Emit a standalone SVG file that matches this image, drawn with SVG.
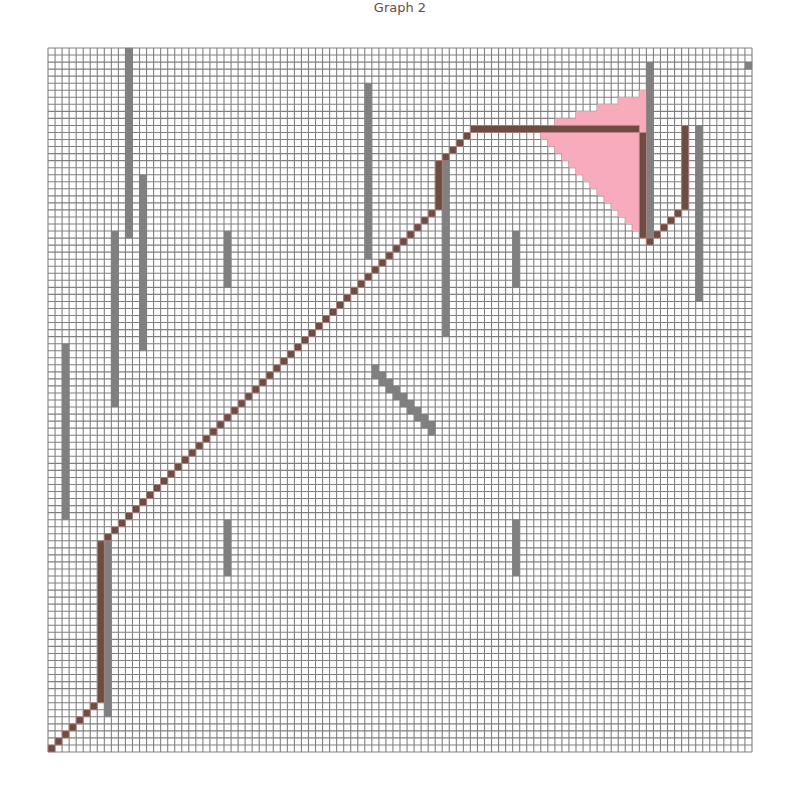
<svg xmlns="http://www.w3.org/2000/svg" width="800" height="800" viewBox="0 0 800 800">
<style>
.title{font-family:"DejaVu Sans","Liberation Sans",sans-serif;font-size:13px;fill:#6d4c41}
.gl{fill:none;stroke:#808080;stroke-width:1.1;vector-effect:non-scaling-stroke}
.obs{fill:#808080;stroke:#808080;stroke-width:0.3;vector-effect:non-scaling-stroke}
.vis{fill:#f7abbb;stroke:#f7abbb;stroke-width:0.3;vector-effect:non-scaling-stroke}
.pth{fill:#6d4c41;stroke:#c98a8a;stroke-width:0.6;vector-effect:non-scaling-stroke}
</style>
<rect width="800" height="800" fill="#ffffff"/>
<text class="title" x="400" y="12" text-anchor="middle">Graph 2</text>
<g transform="translate(48,48) scale(7.04)">
<rect id="board" x="0" y="0" width="100" height="100" fill="#ffffff"/>
<path id="grid" class="gl" d="M0 0H100M0 1H100M0 2H100M0 3H100M0 4H100M0 5H100M0 6H100M0 7H100M0 8H100M0 9H100M0 10H100M0 11H100M0 12H100M0 13H100M0 14H100M0 15H100M0 16H100M0 17H100M0 18H100M0 19H100M0 20H100M0 21H100M0 22H100M0 23H100M0 24H100M0 25H100M0 26H100M0 27H100M0 28H100M0 29H100M0 30H100M0 31H100M0 32H100M0 33H100M0 34H100M0 35H100M0 36H100M0 37H100M0 38H100M0 39H100M0 40H100M0 41H100M0 42H100M0 43H100M0 44H100M0 45H100M0 46H100M0 47H100M0 48H100M0 49H100M0 50H100M0 51H100M0 52H100M0 53H100M0 54H100M0 55H100M0 56H100M0 57H100M0 58H100M0 59H100M0 60H100M0 61H100M0 62H100M0 63H100M0 64H100M0 65H100M0 66H100M0 67H100M0 68H100M0 69H100M0 70H100M0 71H100M0 72H100M0 73H100M0 74H100M0 75H100M0 76H100M0 77H100M0 78H100M0 79H100M0 80H100M0 81H100M0 82H100M0 83H100M0 84H100M0 85H100M0 86H100M0 87H100M0 88H100M0 89H100M0 90H100M0 91H100M0 92H100M0 93H100M0 94H100M0 95H100M0 96H100M0 97H100M0 98H100M0 99H100M0 100H100M0 0V100M1 0V100M2 0V100M3 0V100M4 0V100M5 0V100M6 0V100M7 0V100M8 0V100M9 0V100M10 0V100M11 0V100M12 0V100M13 0V100M14 0V100M15 0V100M16 0V100M17 0V100M18 0V100M19 0V100M20 0V100M21 0V100M22 0V100M23 0V100M24 0V100M25 0V100M26 0V100M27 0V100M28 0V100M29 0V100M30 0V100M31 0V100M32 0V100M33 0V100M34 0V100M35 0V100M36 0V100M37 0V100M38 0V100M39 0V100M40 0V100M41 0V100M42 0V100M43 0V100M44 0V100M45 0V100M46 0V100M47 0V100M48 0V100M49 0V100M50 0V100M51 0V100M52 0V100M53 0V100M54 0V100M55 0V100M56 0V100M57 0V100M58 0V100M59 0V100M60 0V100M61 0V100M62 0V100M63 0V100M64 0V100M65 0V100M66 0V100M67 0V100M68 0V100M69 0V100M70 0V100M71 0V100M72 0V100M73 0V100M74 0V100M75 0V100M76 0V100M77 0V100M78 0V100M79 0V100M80 0V100M81 0V100M82 0V100M83 0V100M84 0V100M85 0V100M86 0V100M87 0V100M88 0V100M89 0V100M90 0V100M91 0V100M92 0V100M93 0V100M94 0V100M95 0V100M96 0V100M97 0V100M98 0V100M99 0V100M100 0V100"/>
<g id="visibility">
<path class="vis" d="M85 6V27H84V26H83V25H82V24H81V23H80V22H79V21H78V20H77V19H76V18H75V17H74V16H73V15H72V14H71V13H70V11H72V10H75V9H78V8H81V7H84V6Z"/>
</g>
<g id="obstacles">
<rect class="obs" x="11" y="0" width="1" height="27"/>
<rect class="obs" x="13" y="18" width="1" height="25"/>
<rect class="obs" x="9" y="26" width="1" height="25"/>
<rect class="obs" x="2" y="42" width="1" height="25"/>
<rect class="obs" x="25" y="26" width="1" height="8"/>
<rect class="obs" x="66" y="26" width="1" height="8"/>
<rect class="obs" x="25" y="67" width="1" height="8"/>
<rect class="obs" x="66" y="67" width="1" height="8"/>
<rect class="obs" x="45" y="5" width="1" height="25"/>
<rect class="obs" x="56" y="16" width="1" height="25"/>
<rect class="obs" x="85" y="2" width="1" height="25"/>
<rect class="obs" x="99" y="2" width="1" height="1"/>
<rect class="obs" x="92" y="11" width="1" height="25"/>
<rect class="obs" x="8" y="70" width="1" height="25"/>
<path class="obs" d="M46 45h1v2h-1zm1 1h1v2h-1zm1 1h1v2h-1zm1 1h1v2h-1zm1 1h1v2h-1zm1 1h1v2h-1zm1 1h1v2h-1zm1 1h1v2h-1zm1 1h1v2h-1z"/>
</g>
<g id="path">
<path class="pth" d="M0 99h1v1h-1zm1-1h1v1h-1zm1-1h1v1h-1zm1-1h1v1h-1zm1-1h1v1h-1zm1-1h1v1h-1zm1-1h1v1h-1z"/>
<rect class="pth" x="7" y="70" width="1" height="23"/>
<path class="pth" d="M8 69h1v1h-1zm1-1h1v1h-1zm1-1h1v1h-1zm1-1h1v1h-1zm1-1h1v1h-1zm1-1h1v1h-1zm1-1h1v1h-1zm1-1h1v1h-1zm1-1h1v1h-1zm1-1h1v1h-1zm1-1h1v1h-1zm1-1h1v1h-1zm1-1h1v1h-1zm1-1h1v1h-1zm1-1h1v1h-1zm1-1h1v1h-1zm1-1h1v1h-1zm1-1h1v1h-1zm1-1h1v1h-1zm1-1h1v1h-1zm1-1h1v1h-1zm1-1h1v1h-1zm1-1h1v1h-1zm1-1h1v1h-1zm1-1h1v1h-1zm1-1h1v1h-1zm1-1h1v1h-1zm1-1h1v1h-1zm1-1h1v1h-1zm1-1h1v1h-1zm1-1h1v1h-1zm1-1h1v1h-1zm1-1h1v1h-1zm1-1h1v1h-1zm1-1h1v1h-1zm1-1h1v1h-1zm1-1h1v1h-1zm1-1h1v1h-1zm1-1h1v1h-1zm1-1h1v1h-1zm1-1h1v1h-1zm1-1h1v1h-1zm1-1h1v1h-1zm1-1h1v1h-1zm1-1h1v1h-1zm1-1h1v1h-1zm1-1h1v1h-1z"/>
<rect class="pth" x="55" y="16" width="1" height="7"/>
<path class="pth" d="M56 15h1v1h-1zm1-1h1v1h-1zm1-1h1v1h-1zm1-1h1v1h-1z"/>
<rect class="pth" x="60" y="11" width="24" height="1"/>
<rect class="pth" x="84" y="12" width="1" height="15"/>
<path class="pth" d="M85 27h1v1h-1zm1-1h1v1h-1zm1-1h1v1h-1zm1-1h1v1h-1zm1-1h1v1h-1z"/>
<rect class="pth" x="90" y="11" width="1" height="12"/>
</g>
</g>
</svg>
